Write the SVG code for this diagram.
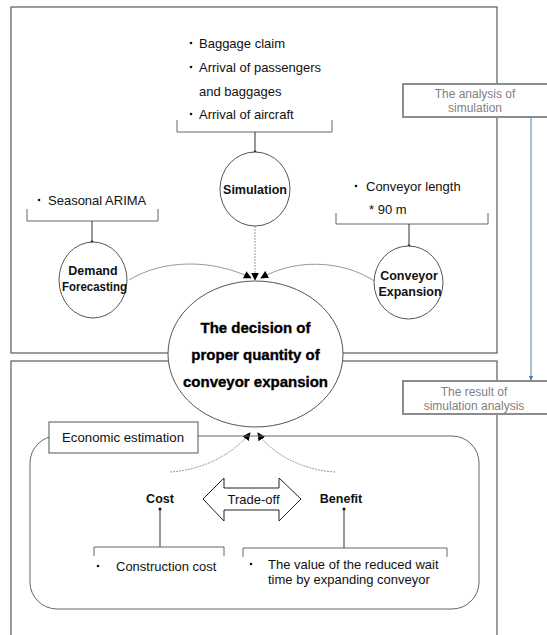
<svg xmlns="http://www.w3.org/2000/svg" width="547" height="635" viewBox="0 0 547 635">
<style>
.frame{fill:none;stroke:#5a5a5a;stroke-width:1.2}
.gbox{fill:#fff;stroke:#8c8c8c;stroke-width:2}
.gtxt{font-family:"Liberation Sans",Arial,sans-serif;font-size:12px;fill:#7f7f7f;text-anchor:middle}
.t{font-family:"Liberation Sans",Arial,sans-serif;font-size:13px;fill:#111}
.b{font-family:"Liberation Sans",Arial,sans-serif;font-weight:bold;font-size:12.5px;fill:#111;text-anchor:middle}
.big{font-family:"Liberation Sans",Arial,sans-serif;font-weight:bold;font-size:15px;fill:#000;stroke:#000;stroke-width:0.35;text-anchor:middle}
.node{fill:#fff;stroke:#555;stroke-width:1}
.brk{fill:none;stroke:#666;stroke-width:1}
.stem{fill:none;stroke:#333;stroke-width:1}
.curve{fill:none;stroke:#9a9a9a;stroke-width:1}
.dash{fill:none;stroke:#9a9a9a;stroke-width:1;stroke-dasharray:2 1}
.dot{fill:#111}
</style>
<defs>
<marker id="ah" viewBox="0 0 10 10" refX="9" refY="5" markerWidth="8" markerHeight="8" markerUnits="userSpaceOnUse" orient="auto">
<path d="M0,0 L10,5 L0,10 Z" fill="#000"/>
</marker>
<marker id="bah" viewBox="0 0 10 10" refX="9" refY="5" markerWidth="5" markerHeight="5" markerUnits="userSpaceOnUse" orient="auto">
<path d="M0,0 L10,5 L0,10 Z" fill="#4a7ebb"/>
</marker>
</defs>
<rect width="547" height="635" fill="#fff"/>

<g id="frames">
<rect class="frame" x="11" y="7" width="486" height="346"/>
<rect class="frame" x="11" y="361" width="486" height="290"/>
</g>

<g id="connectors">
<path class="curve" d="M129,280 C165,258 215,260 251,278" marker-end="url(#ah)"/>
<path class="curve" d="M376,282 C340,258 292,260 261,278" marker-end="url(#ah)"/>
<path class="dash" d="M255,226 L255,280" marker-end="url(#ah)"/>
<path class="dash" d="M170,472 C205,470 235,452 250,433" marker-end="url(#ah)"/>
<path class="dash" d="M335,472 C300,470 270,452 258,433" marker-end="url(#ah)"/>
<path d="M531,117 L531,380" fill="none" stroke="#4a7ebb" stroke-width="1" marker-end="url(#bah)"/>
</g>

<g id="analysis">
<rect class="gbox" x="403" y="84" width="160" height="33"/>
<text class="gtxt" x="475" y="98">The analysis of</text>
<text class="gtxt" x="475" y="112">simulation</text>
</g>

<g id="result">
<rect class="gbox" x="403" y="381" width="160" height="33"/>
<text class="gtxt" x="474" y="396">The result of</text>
<text class="gtxt" x="474" y="410">simulation analysis</text>
</g>

<g id="simulation-notes">
<circle class="dot" cx="191" cy="43" r="1.3"/>
<text class="t" x="199" y="47.5">Baggage claim</text>
<circle class="dot" cx="191" cy="67" r="1.3"/>
<text class="t" x="199" y="71.5">Arrival of passengers</text>
<text class="t" x="199" y="95.5">and baggages</text>
<circle class="dot" cx="191" cy="114" r="1.3"/>
<text class="t" x="199" y="118.5">Arrival of aircraft</text>
<path class="brk" d="M177,120 V132 H332 V120"/>
<path class="stem" d="M255,132 V152"/>
<circle class="dot" cx="255" cy="152" r="1.5"/>
</g>

<g id="simulation">
<ellipse class="node" cx="255" cy="189" rx="35" ry="37"/>
<text class="b" x="255" y="193.5">Simulation</text>
</g>

<g id="demand-notes">
<circle class="dot" cx="39" cy="200" r="1.3"/>
<text class="t" x="48" y="204.5">Seasonal ARIMA</text>
<path class="brk" d="M27,209 V221 H158 V209"/>
<path class="stem" d="M92,221 V242"/>
<circle class="dot" cx="92" cy="242" r="1.5"/>
</g>

<g id="demand">
<ellipse class="node" cx="93" cy="280" rx="34" ry="38"/>
<text class="b" x="93" y="274.5">Demand</text>
<text class="b" x="94.5" y="290.5" textLength="65" lengthAdjust="spacingAndGlyphs">Forecasting</text>
</g>

<g id="conveyor-notes">
<circle class="dot" cx="356" cy="186" r="1.3"/>
<text class="t" x="366" y="190.5">Conveyor length</text>
<text class="t" x="369" y="213.5">* 90 m</text>
<path class="brk" d="M336,213 V224 H488 V213"/>
<path class="stem" d="M409,224 V246"/>
<circle class="dot" cx="409" cy="246" r="1.5"/>
</g>

<g id="conveyor">
<ellipse class="node" cx="408.5" cy="282.5" rx="34.5" ry="36.5"/>
<text class="b" x="409" y="279.5">Conveyor</text>
<text class="b" x="410" y="295.5">Expansion</text>
</g>

<g id="decision">
<ellipse class="node" cx="255.5" cy="354" rx="87.5" ry="73"/>
<text class="big" x="255.5" y="333">The decision of</text>
<text class="big" x="255.5" y="360">proper quantity of</text>
<text class="big" x="255.5" y="387">conveyor expansion</text>
</g>

<g id="economic">
<rect x="30" y="436" width="449" height="173" rx="27" ry="27" fill="none" stroke="#666" stroke-width="1"/>
<rect x="49" y="422" width="149" height="31" fill="#fff" stroke="#555" stroke-width="1"/>
<text class="t" x="123" y="441.5" text-anchor="middle" textLength="122" lengthAdjust="spacingAndGlyphs">Economic estimation</text>
</g>

<g id="tradeoff">
<polygon points="203,499 224,478 224,488 279,488 279,478 301,499 279,521 279,510 224,510 224,521" fill="#fff" stroke="#222" stroke-width="1"/>
<text class="t" x="253.5" y="503.5" text-anchor="middle">Trade-off</text>
</g>

<g id="cost">
<text class="b" x="160" y="502.5" font-size="13">Cost</text>
<circle class="dot" cx="160" cy="509" r="1.5"/>
<path class="stem" d="M160,509 V547"/>
<path class="brk" d="M94,556 V547 H224 V556"/>
<circle class="dot" cx="98" cy="566" r="1.3"/>
<text class="t" x="116" y="570.5">Construction cost</text>
</g>

<g id="benefit">
<text class="b" x="341" y="503" font-size="13">Benefit</text>
<circle class="dot" cx="344" cy="509" r="1.5"/>
<path class="stem" d="M344,509 V548"/>
<path class="brk" d="M243,557 V548 H447 V557"/>
<circle class="dot" cx="251" cy="564" r="1.3"/>
<text class="t" x="268" y="568.5">The value of the reduced wait</text>
<text class="t" x="268" y="583.5">time by expanding conveyor</text>
</g>
</svg>
